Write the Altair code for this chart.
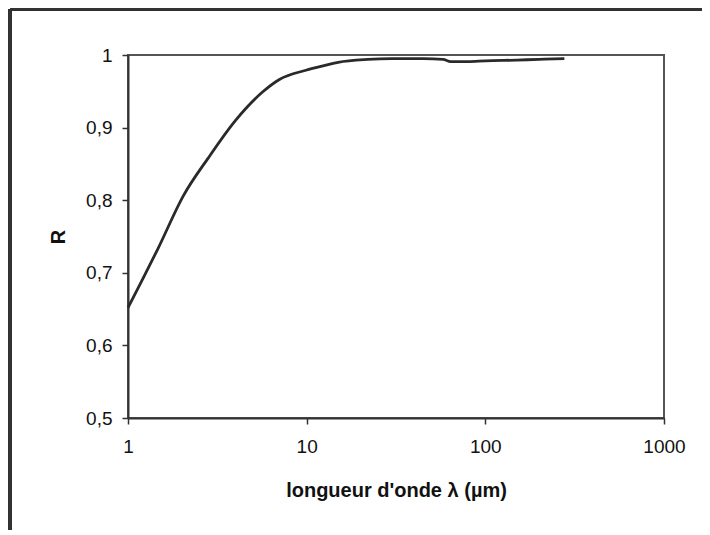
import altair as alt
import pandas as pd

# data
wavelength = [1, 1.2, 1.47, 2.04, 2.81, 4.0, 5.66, 7.0, 9.9, 12.8, 15, 22, 30, 45, 58, 64, 80, 100, 150, 200, 277]
reflect = [0.652, 0.69, 0.733, 0.806, 0.858, 0.91, 0.949, 0.966, 0.979, 0.986, 0.99, 0.994, 0.995, 0.995, 0.994, 0.991, 0.991, 0.992, 0.993, 0.994, 0.995]
x_ticks = [1, 10, 100, 1000]
y_ticks = [0.5, 0.6, 0.7, 0.8, 0.9, 1.0]

df = pd.DataFrame({"lam": wavelength, "R": reflect})

FONT = "Liberation Sans"

line = alt.Chart(df).mark_line(color="#2a2a2a", strokeWidth=2.8, interpolate="monotone").encode(
    x=alt.X("lam:Q",
            scale=alt.Scale(type="log", domain=[1, 1000]),
            axis=alt.Axis(values=x_ticks, title="longueur d'onde λ (µm)", format="d",
                          grid=False, tickSize=6, labelPadding=13, titlePadding=24,
                          labelFlush=False)),
    y=alt.Y("R:Q",
            scale=alt.Scale(domain=[0.5, 1.0], nice=False, zero=False),
            axis=alt.Axis(values=y_ticks, title="R", grid=False, tickSize=6,
                          labelPadding=10, titlePadding=17,
                          labelExpr="replace(format(datum.value, '.1~f'), '.', ',')")),
)

# outer frame of the figure (decoration)
frame_left = alt.Chart(df).mark_rule(color="#333", strokeWidth=2.5).encode(
    x=alt.value(-118), y=alt.value(-46), y2=alt.value(480))
frame_top = alt.Chart(df).mark_rule(color="#333", strokeWidth=2.5).encode(
    x=alt.value(-118), x2=alt.value(580), y=alt.value(-46))

chart = alt.layer(frame_left, frame_top, line).properties(
    width=536, height=363,
    background="white",
    autosize=alt.AutoSizeParams(type="none"),
    padding={"left": 120, "top": 47, "right": 38, "bottom": 112},
).configure_view(
    stroke="#555", strokeWidth=2
).configure_axis(
    domainColor="#333", domainWidth=2, tickColor="#333", tickWidth=1.5,
    labelFont=FONT, labelFontSize=19, labelColor="#111",
    titleFont=FONT, titleFontSize=20, titleFontWeight="bold", titleColor="#111",
)

chart.save("out.html", embed_options={"renderer": "svg", "actions": False})
